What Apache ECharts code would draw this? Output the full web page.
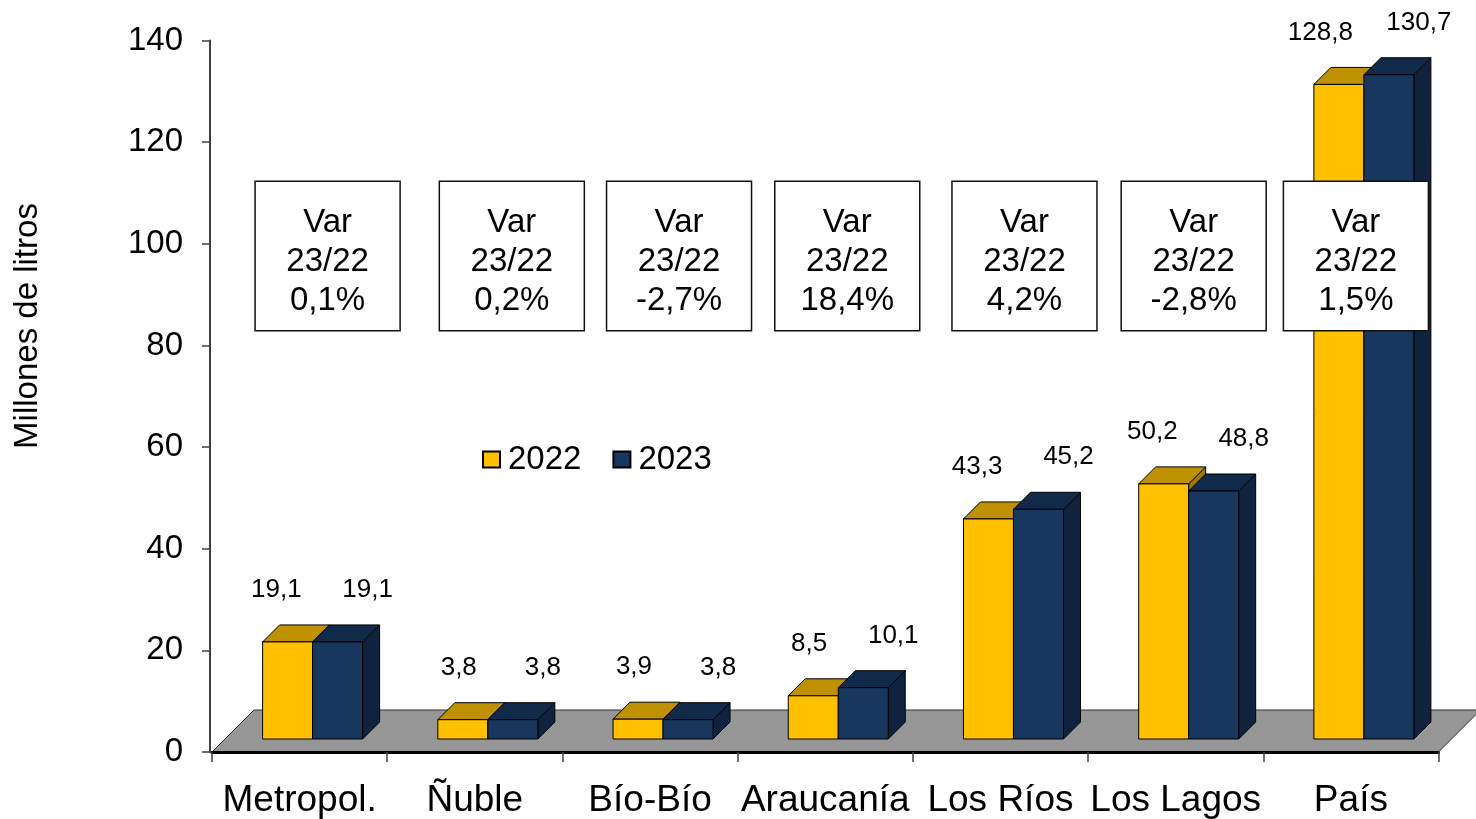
<!DOCTYPE html>
<html>
<head>
<meta charset="utf-8">
<script src="https://cdn.jsdelivr.net/npm/echarts@6/dist/echarts.min.js"></script>
<style>
  html, body { margin: 0; padding: 0; background: #fff; }
  #chart { width: 1476px; height: 819px; }
</style>
</head>
<body>
<div id="chart"></div>
<script>
// ---------- Data ----------
const categories = ['Metropol.', 'Ñuble', 'Bío-Bío', 'Araucanía', 'Los Ríos', 'Los Lagos', 'País']
const litros2022 = [19.1, 3.8, 3.9, 8.5, 43.3, 50.2, 128.8]
const litros2023 = [19.1, 3.8, 3.8, 10.1, 45.2, 48.8, 130.7]
const variacion = ['0,1%', '0,2%', '-2,7%', '18,4%', '4,2%', '-2,8%', '1,5%']
const yTicks = [0, 20, 40, 60, 80, 100, 120, 140]

// ---------- Look ----------
const FONT = '"Liberation Sans", Arial, sans-serif'
const COLORS = {
  y2022: { front: '#FFC000', top: '#BF9000', side: '#A07800' },
  y2023: { front: '#17375E', top: '#112A4A', side: '#0F233E' }
}
const BAR_W = 50 // front face width of each bar
const SHIFT = 13 // bars sit a bit back on the floor
const DEPTH = 17 // 3D depth of bars
const FLOOR = 42 // depth of the floor
const BOX_TOP = 112.3 // text boxes, in axis units
const BOX_BOTTOM = 82.9
const BOX_W = 145
// the text boxes were placed by hand, not exactly centred
const boxNudge = [28, 37, 29, 22, 24, 18, 5]

const fmt = v => v.toFixed(1).replace('.', ',')

const chart = echarts.init(document.getElementById('chart'))

// 3D bar, k = 0 (left) or 1 (right)
const barItem = (k, col, labelAlign, labelDx) => (params, api) => {
  const i = api.value(0)
  const v = api.value(1)
  const base = api.coord([i, 0])
  const top = api.coord([i, v])
  const x0 = base[0] + SHIFT - BAR_W + k * BAR_W
  const x1 = x0 + BAR_W
  const yb = base[1] - SHIFT
  const yt = top[1] - SHIFT
  const d = DEPTH
  const line = { stroke: '#000', lineWidth: 1 }
  return {
    type: 'group',
    children: [
      { type: 'polygon', shape: { points: [[x1, yt], [x1 + d, yt - d], [x1 + d, yb - d], [x1, yb]] },
        style: { fill: col.side, ...line } },
      { type: 'polygon', shape: { points: [[x0, yt], [x1, yt], [x1 + d, yt - d], [x0 + d, yt - d]] },
        style: { fill: col.top, ...line } },
      { type: 'rect', shape: { x: x0, y: yt, width: BAR_W, height: yb - yt },
        style: { fill: col.front, ...line } },
      { type: 'text', x: base[0] + labelDx, y: yt - 52,
        style: { text: fmt(v), fill: '#000', fontSize: 26, fontFamily: FONT,
          align: labelAlign, verticalAlign: 'middle' } }
    ]
  }
}

const option = {
  animation: false,
  textStyle: { fontFamily: FONT },
  grid: { left: 212, right: 37.5, top: 40.5, bottom: 66.5 },
  legend: {
    left: 477,
    top: 438,
    itemWidth: 17,
    itemHeight: 16,
    itemGap: 31,
    icon: 'rect',
    textStyle: { fontSize: 33, color: '#000', fontFamily: FONT, padding: [0, 0, 0, 3] },
    data: ['2022', '2023']
  },
  graphic: [{
    type: 'text',
    x: 28,
    y: 326,
    rotation: Math.PI / 2,
    style: { text: 'Millones de litros', fontSize: 33, fontFamily: FONT, fill: '#000',
      align: 'center', verticalAlign: 'middle' }
  }],
  xAxis: {
    type: 'category',
    data: categories,
    z: 5,
    axisLine: { lineStyle: { color: '#000', width: 3 } },
    axisTick: { show: true, length: 10, lineStyle: { color: '#404040', width: 1.5 } },
    axisLabel: { interval: 0, fontSize: 37, color: '#000', fontFamily: FONT, margin: 30 }
  },
  yAxis: {
    type: 'value',
    min: yTicks[0],
    max: yTicks[yTicks.length - 1],
    interval: 20,
    offset: 2,
    splitLine: { show: false },
    axisLine: { show: true, lineStyle: { color: '#404040', width: 2 } },
    axisTick: { show: true, length: 8, lineStyle: { color: '#404040', width: 1.5 } },
    axisLabel: { fontSize: 33, color: '#000', fontFamily: FONT, margin: 27 }
  },
  series: [
    {
      name: 'floor',
      type: 'custom',
      z: 1,
      silent: true,
      data: [[0, 0]],
      renderItem: (params, api) => {
        const band = api.size([1, 0])[0]
        const a = api.coord([0, 0])
        const b = api.coord([categories.length - 1, 0])
        const L = a[0] - band / 2
        const R = b[0] + band / 2
        const y = a[1]
        return {
          type: 'polygon',
          shape: { points: [[L, y], [L + FLOOR, y - FLOOR], [R + FLOOR, y - FLOOR], [R, y]] },
          style: { fill: '#969696', stroke: '#333', lineWidth: 1 }
        }
      }
    },
    {
      name: '2022',
      type: 'custom',
      z: 2,
      itemStyle: { color: COLORS.y2022.front, borderColor: '#000', borderWidth: 1 },
      data: litros2022.map((v, i) => [i, v]),
      renderItem: barItem(0, COLORS.y2022, 'right', 2)
    },
    {
      name: '2023',
      type: 'custom',
      z: 2,
      itemStyle: { color: COLORS.y2023.front, borderColor: '#000', borderWidth: 1 },
      data: litros2023.map((v, i) => [i, v]),
      renderItem: barItem(1, COLORS.y2023, 'center', 68)
    },
    {
      name: 'var',
      type: 'custom',
      z: 3,
      silent: true,
      data: variacion.map((t, i) => [i, 0]),
      renderItem: (params, api) => {
        const i = api.value(0)
        const t = api.coord([i, BOX_TOP])
        const b = api.coord([i, BOX_BOTTOM])
        const cx = t[0] + boxNudge[params.dataIndex]
        return {
          type: 'group',
          children: [
            { type: 'rect', shape: { x: cx - BOX_W / 2, y: t[1], width: BOX_W, height: b[1] - t[1] },
              style: { fill: '#fff', stroke: '#111', lineWidth: 1.5 } },
            { type: 'text', x: cx, y: (t[1] + b[1]) / 2 + 6,
              style: { text: 'Var\n23/22\n' + variacion[params.dataIndex], fill: '#000',
                fontSize: 33, lineHeight: 39, fontFamily: FONT, align: 'center', verticalAlign: 'middle' } }
          ]
        }
      }
    }
  ]
}

chart.setOption(option)
</script>
</body>
</html>
